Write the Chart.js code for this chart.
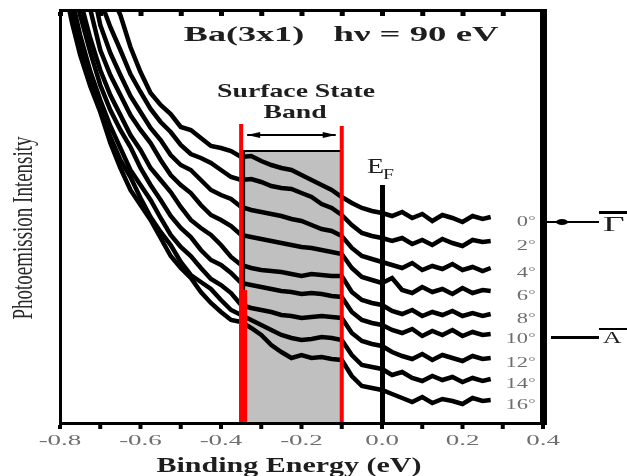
<!DOCTYPE html>
<html>
<head>
<meta charset="utf-8">
<script src="https://cdn.jsdelivr.net/npm/chart.js@4/dist/chart.umd.min.js"></script>
<style>
  html, body { margin: 0; padding: 0; background: #fff; }
  #wrap { width: 627px; height: 476px; }
</style>
</head>
<body>
<div id="wrap"><canvas id="arpes" width="627" height="476"></canvas></div>
<script>
// binding energy grid (eV)
const energy = [-0.79, -0.77, -0.75, -0.725, -0.70, -0.675, -0.65, -0.625, -0.60, -0.575,
  -0.55, -0.525, -0.50, -0.475, -0.45, -0.425, -0.40, -0.375, -0.35,
  -0.325, -0.30, -0.275, -0.25, -0.225, -0.20, -0.175, -0.15, -0.125, -0.10,
  -0.075, -0.05, -0.025, 0.0, 0.025, 0.05, 0.075, 0.10, 0.125, 0.15,
  0.175, 0.20, 0.225, 0.25, 0.27];

// emission angles (deg)
const angles = ['0', '2', '4', '6', '8', '10', '12', '14', '16'];

// photoemission intensity, arb. units, offset spectra
const spec0  = [673, 628, 593, 520, 463, 430, 408, 376, 351, 330, 318, 309, 296, 293, 285, 277, 275, 272, 266,
  267, 262, 258, 255, 253, 248, 243, 238, 233, 226, 220, 215, 212, 210, 207, 211, 205, 209, 202, 208, 205, 201, 207, 204, 206];
const spec2  = [623, 580, 543, 478, 423, 396, 373, 349, 331, 314, 301, 291, 278, 269, 265, 260, 253, 246, 243,
  244, 241, 237, 235, 234, 230, 226, 219, 215, 208, 198, 190, 187, 185, 182, 185, 179, 183, 178, 184, 180, 177, 183, 181, 182];
const spec4  = [573, 535, 503, 446, 398, 370, 348, 327, 311, 295, 283, 268, 258, 253, 243, 233, 228, 224, 216,
  213, 211, 209, 207, 204, 202, 198, 194, 192, 187, 175, 167, 164, 161, 158, 155, 160, 153, 157, 154, 159, 153, 156, 152, 155];
const spec6  = [533, 495, 463, 414, 373, 348, 328, 308, 293, 280, 263, 248, 238, 230, 218, 208, 203, 197, 188,
  186, 184, 182, 180, 178, 176, 175, 173, 171, 169, 155, 146, 143, 140, 145, 133, 130, 136, 131, 134, 129, 135, 130, 133, 132];
const spec8  = [503, 460, 423, 385, 353, 328, 308, 288, 273, 255, 243, 231, 216, 203, 195, 188, 178, 166, 158,
  155, 153, 152, 151, 149, 147, 149, 148, 147, 147, 131, 123, 120, 118, 112, 109, 113, 107, 111, 108, 112, 107, 110, 107, 109];
const spec10 = [483, 443, 408, 371, 338, 313, 293, 276, 255, 238, 223, 207, 195, 186, 173, 163, 158, 150, 140,
  138, 136, 134, 132, 131, 129, 130, 129, 127, 126, 111, 103, 100, 98, 93, 90, 94, 87, 92, 88, 93, 87, 91, 88, 89];
const spec12 = [463, 423, 388, 352, 323, 297, 275, 253, 238, 223, 205, 188, 176, 167, 155, 144, 138, 130, 118,
  115, 113, 111, 108, 107, 105, 106, 107, 106, 105, 90, 82, 79, 77, 71, 67, 64, 69, 63, 68, 65, 62, 67, 64, 65];
const spec14 = [448, 410, 378, 343, 315, 286, 263, 246, 225, 206, 191, 178, 161, 148, 141, 134, 123, 113, 108,
  103, 98, 93, 88, 85, 83, 84, 86, 85, 83, 68, 58, 56, 54, 48, 51, 45, 42, 47, 43, 46, 41, 45, 42, 44];
const spec16 = [438, 400, 368, 337, 311, 280, 255, 233, 218, 203, 185, 167, 155, 145, 131, 120, 111, 103, 101,
  95, 88, 78, 71, 65, 68, 65, 66, 64, 63, 47, 37, 35, 33, 29, 25, 21, 26, 20, 24, 22, 19, 25, 22, 23];

const xTickLabels = ['-0.8', '-0.6', '-0.4', '-0.2', '0.0', '0.2', '0.4'];

// annotation anchors (data units)
const band = [-0.35, -0.10];   // surface state band window
const bandTop = 273;
const redTop = 299, redThickTop = 133;
const fermiTop = 238;
const arrowSpan = [-0.335, -0.115], arrowLevel = 288;

const spectra = [spec0, spec2, spec4, spec6, spec8, spec10, spec12, spec14, spec16];
const SERIF = '"Liberation Serif", "DejaVu Serif", serif';

function txt(ctx, s, x, y, font, sx, sy, align, color, rot) {
  ctx.save();
  ctx.translate(x, y);
  if (rot) ctx.rotate(rot);
  ctx.scale(sx, sy);
  ctx.font = font;
  ctx.textAlign = align;
  ctx.textBaseline = 'alphabetic';
  ctx.fillStyle = color;
  ctx.fillText(s, 0, 0);
  ctx.restore();
}

const deco = {
  id: 'deco',
  beforeDatasetsDraw(chart) {
    const { ctx, scales: { x, y } } = chart;
    const l = x.getPixelForValue(band[0]), r = x.getPixelForValue(band[1]);
    const t = y.getPixelForValue(bandTop), b = y.getPixelForValue(0);
    ctx.save();
    ctx.fillStyle = '#c0c0c0';
    ctx.fillRect(l, t, r - l, b - t);
    ctx.fillStyle = '#000';
    ctx.fillRect(l, t, r - l, 2);
    ctx.fillRect(l, t, 4, b - t);
    ctx.restore();
  },
  afterDatasetsDraw(chart) {
    const { ctx, chartArea: ca, scales: { x, y } } = chart;
    const bot = y.getPixelForValue(0);
    ctx.save();

    // band edges
    const rl = x.getPixelForValue(band[0]), rr = x.getPixelForValue(band[1]);
    ctx.fillStyle = '#ff0000';
    ctx.fillRect(rl - 2, y.getPixelForValue(redTop), 4, bot - y.getPixelForValue(redTop));
    ctx.fillRect(rl - 2, y.getPixelForValue(redThickTop), 8, bot - y.getPixelForValue(redThickTop));
    ctx.fillRect(rr - 2, y.getPixelForValue(redTop) + 2, 4, bot - y.getPixelForValue(redTop) - 2);

    // Fermi level
    const ef = x.getPixelForValue(0);
    ctx.fillStyle = '#000';
    ctx.fillRect(ef - 2, y.getPixelForValue(fermiTop), 5, bot - y.getPixelForValue(fermiTop));

    // band arrow
    const a0 = x.getPixelForValue(arrowSpan[0]), a1 = x.getPixelForValue(arrowSpan[1]);
    const ay = y.getPixelForValue(arrowLevel);
    ctx.fillRect(a0, ay - 1, a1 - a0, 2);
    ctx.beginPath();
    ctx.moveTo(a0, ay); ctx.lineTo(a0 + 13, ay - 3); ctx.lineTo(a0 + 13, ay + 3); ctx.closePath();
    ctx.moveTo(a1, ay); ctx.lineTo(a1 - 13, ay - 3); ctx.lineTo(a1 - 13, ay + 3); ctx.closePath();
    ctx.fill();

    // frame
    ctx.fillRect(ca.left - 1, ca.top - 1, ca.right - ca.left + 2, 3);
    ctx.fillRect(ca.left - 1, ca.bottom - 1, ca.right - ca.left + 2, 3);
    ctx.fillRect(ca.left - 1, ca.top - 1, 3, ca.bottom - ca.top + 3);
    ctx.fillRect(ca.right - 3, ca.top - 1, 7, ca.bottom - ca.top + 3);

    // ticks every 0.1: outward at bottom, inward at top
    x.ticks.forEach(tk => {
      const px = x.getPixelForValue(tk.value);
      ctx.fillRect(px - 2, ca.bottom + 2, 4, 4);
      ctx.fillRect(px - 2, ca.top + 2, 5, 4);
    });

    // tick labels
    xTickLabels.forEach(lb => {
      const px = x.getPixelForValue(parseFloat(lb));
      txt(ctx, lb, px, 445, '15px ' + SERIF, 1.8, 1, 'center', '#6e6e6e');
    });

    // axis titles
    txt(ctx, 'Binding Energy (eV)', 289, 472, 'bold 20px ' + SERIF, 1.5, 1, 'center', '#1e1e1e');
    txt(ctx, 'Photoemission Intensity', 32, 228, '19px ' + SERIF, 1, 1.5, 'center', '#2a2a2a', -Math.PI / 2);

    // header texts
    txt(ctx, 'Ba(3x1)', 244, 41, 'bold 21px ' + SERIF, 1.72, 1, 'center', '#1e1e1e');
    txt(ctx, 'h\u03bd = 90 eV', 416, 41, 'bold 21px ' + SERIF, 1.75, 1, 'center', '#1e1e1e');
    txt(ctx, 'Surface State', 296, 97, 'bold 19px ' + SERIF, 1.46, 1, 'center', '#1e1e1e');
    txt(ctx, 'Band', 295, 118, 'bold 19px ' + SERIF, 1.46, 1, 'center', '#1e1e1e');
    txt(ctx, 'E', ef - 15, 173, '20px ' + SERIF, 1.4, 1, 'left', '#1e1e1e');
    txt(ctx, 'F', ef + 1, 179, '14px ' + SERIF, 1.4, 1, 'left', '#1e1e1e');

    // angle labels at the end of each spectrum
    spectra.forEach((s, i) => {
      const ly = y.getPixelForValue(s[s.length - 1]) + 4;
      txt(ctx, angles[i], ca.right - 15, ly + 5, '15px ' + SERIF, 1.5, 1, 'right', '#6e6e6e');
      txt(ctx, '\u00b0', ca.right - 15, ly + 3, '13px ' + SERIF, 1.5, 1, 'left', '#8a8a8a');
    });

    // high-symmetry points
    const gy = y.getPixelForValue(spec0[spec0.length - 1]) + 4;
    ctx.fillRect(ca.right + 4, gy, 52, 2);
    ctx.beginPath();
    ctx.ellipse(ca.right + 19, gy + 1, 6, 3, 0, 0, Math.PI * 2);
    ctx.fill();
    ctx.fillRect(ca.right + 56, gy - 10, 28, 3);
    txt(ctx, '\u0393', ca.right + 60, gy + 10, '22px ' + SERIF, 1.7, 1, 'left', '#1e1e1e');

    const ay2 = y.getPixelForValue(spec10[spec10.length - 1]) + 4;
    ctx.fillRect(ca.right + 8, ay2 - 2, 48, 3);
    ctx.fillRect(ca.right + 56, ay2 - 10, 28, 2);
    txt(ctx, 'A', ca.right + 60, ay2 + 5, '17px ' + SERIF, 1.5, 1, 'left', '#1e1e1e');

    ctx.restore();
  }
};

new Chart(document.getElementById('arpes'), {
  type: 'line',
  data: {
    datasets: spectra.map((s, i) => ({
      label: angles[i] + '\u00b0',
      data: s.map((v, j) => ({ x: energy[j], y: v })),
      borderColor: '#000',
      borderWidth: 4.5,
      pointRadius: 0,
      tension: 0,
      fill: false,
      clip: 0
    }))
  },
  options: {
    responsive: false,
    animation: false,
    layout: { padding: { left: 60, right: 84, top: 10, bottom: 0 } },
    plugins: { legend: { display: false }, tooltip: { enabled: false } },
    scales: {
      x: {
        type: 'linear', min: -0.8, max: 0.4,
        ticks: { stepSize: 0.1, display: false },
        grid: { display: false },
        border: { display: false },
        afterFit: s => { s.height = 53; }
      },
      y: { display: false, min: 0, max: 413 }
    }
  },
  plugins: [deco]
});
</script>
</body>
</html>
